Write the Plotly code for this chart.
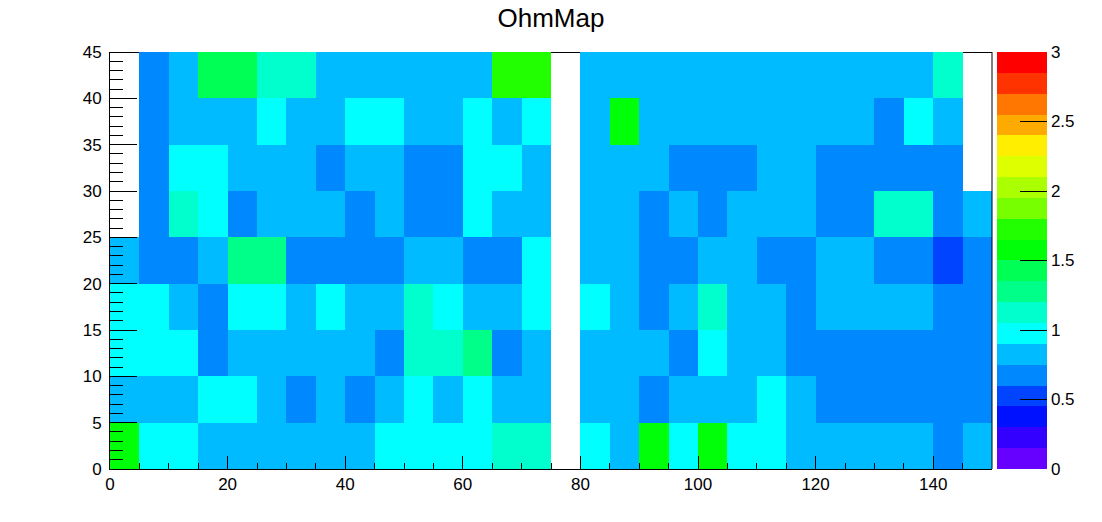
import plotly.graph_objects as go

_ = None
V = 0.52
D = 0.68
B = 0.82
C = 0.98
T = 1.12
G1 = 1.28
G2 = 1.42
G3 = 1.58
G4 = 1.72

x_centers = [2.5 + 5 * i for i in range(30)]
y_centers = [2.5 + 5 * i for i in range(9)]

row_0 = [G3,C,C,B,B,B,B,B,B,C,C,C,C,T,T,_,C,B,G3,C,G3,C,C,B,B,B,B,B,D,B]
row_1 = [B,B,B,C,C,B,D,B,D,B,C,B,C,B,B,_,B,B,D,B,B,B,C,B,D,D,D,D,D,D]
row_2 = [C,C,C,D,B,B,B,B,B,D,T,T,G1,D,B,_,B,B,B,D,C,B,B,D,D,D,D,D,D,D]
row_3 = [C,C,B,D,C,C,B,C,B,B,T,C,B,B,C,_,C,B,D,B,T,B,B,D,B,B,B,B,D,D]
row_4 = [B,D,D,B,G1,G1,D,D,D,D,B,B,D,D,C,_,B,B,D,D,B,B,D,D,B,B,D,D,V,D]
row_5 = [_,D,T,C,D,B,B,B,D,B,D,D,C,B,B,_,B,B,D,B,D,B,B,B,D,D,T,T,D,B]
row_6 = [_,D,C,C,B,B,B,D,B,B,D,D,C,C,B,_,B,B,B,D,D,D,B,B,D,D,D,D,D,_]
row_7 = [_,D,B,B,B,C,B,B,C,C,B,B,C,B,C,_,B,G3,B,B,B,B,B,B,B,B,D,C,B,_]
row_8 = [_,D,B,G2,G2,T,T,B,B,B,B,B,B,G4,G4,_,B,B,B,B,B,B,B,B,B,B,B,B,T,_]
z_values = [row_0, row_1, row_2, row_3, row_4, row_5, row_6, row_7, row_8]

palette = ["#6600FF", "#3300FF", "#0011FF", "#0044FF", "#0088FF", "#00BBFF", "#00FFFF",
           "#00FFCC", "#00FF88", "#00FF55", "#00FF08", "#22FF00", "#77FF00", "#AAFF00",
           "#DDFF00", "#FFEE00", "#FFAA00", "#FF7700", "#FF3300", "#FF0000"]
colorbar_ticks = [0, 0.5, 1, 1.5, 2, 2.5, 3]

colorscale = []
for i, c in enumerate(palette):
    colorscale.append([i / len(palette), c])
    colorscale.append([(i + 1) / len(palette), c])

FONT = "Liberation Sans"
W, H = 1102, 522
L, R, TOP, BOT = 110, 992, 52, 469
PW, PH = R - L, BOT - TOP

fig = go.Figure(go.Heatmap(
    x=x_centers, y=y_centers, z=z_values, zmin=0, zmax=3, colorscale=colorscale,
    hoverongaps=False,
    colorbar=dict(
        x=(997 - L) / PW, xanchor="left", xpad=0, y=0, yanchor="bottom", ypad=0,
        len=1, lenmode="fraction", thickness=50, thicknessmode="pixels",
        outlinewidth=0, tickmode="array", tickvals=colorbar_ticks,
        ticktext=[str(t) for t in colorbar_ticks],
        ticks="inside", ticklen=27, tickwidth=1, tickcolor="black",
        tickfont=dict(family=FONT, size=17, color="black"),
    ),
))

axis_common = dict(
    showgrid=False, zeroline=False, showline=True, linecolor="black", linewidth=1,
    ticks="inside", tickcolor="black", tickwidth=1, mirror=False,
    tickfont=dict(family=FONT, size=17, color="black"),
)
fig.update_xaxes(range=[0, 150], tick0=0, dtick=20, ticklen=13,
                 minor=dict(tick0=0, dtick=5, ticks="inside", ticklen=6, tickcolor="black", tickwidth=1, showgrid=False),
                 **axis_common)
fig.update_yaxes(range=[0, 45], tick0=0, dtick=5, ticklen=27, ticklabelstandoff=4,
                 minor=dict(tick0=0, dtick=1, ticks="inside", ticklen=13, tickcolor="black", tickwidth=1, showgrid=False),
                 **axis_common)

fig.update_layout(
    width=W, height=H, autosize=False,
    margin=dict(l=L, r=W - R, t=TOP, b=H - BOT, pad=0, autoexpand=False),
    paper_bgcolor="white", plot_bgcolor="white",
    title=dict(text="OhmMap", x=551 / W, xanchor="center", y=1 - 18 / H, yanchor="middle",
               font=dict(family=FONT, size=26, color="black")),
    shapes=[
        dict(type="line", xref="paper", yref="paper", x0=0, x1=1, y0=1 - 0.5 / PH, y1=1 - 0.5 / PH,
             line=dict(color="black", width=1), layer="below"),
        dict(type="line", xref="paper", yref="paper", x0=1, x1=1, y0=0, y1=1,
             line=dict(color="black", width=1), layer="above"),
        dict(type="line", xref="paper", yref="paper", x0=(1046.5 - L) / PW, x1=(1046.5 - L) / PW, y0=0, y1=1,
             line=dict(color="black", width=1), layer="above"),
    ],
)

fig.write_html("out.html", config={"displayModeBar": False},
               post_script="document.body.style.margin='0';window.dispatchEvent(new Event('resize'));")
